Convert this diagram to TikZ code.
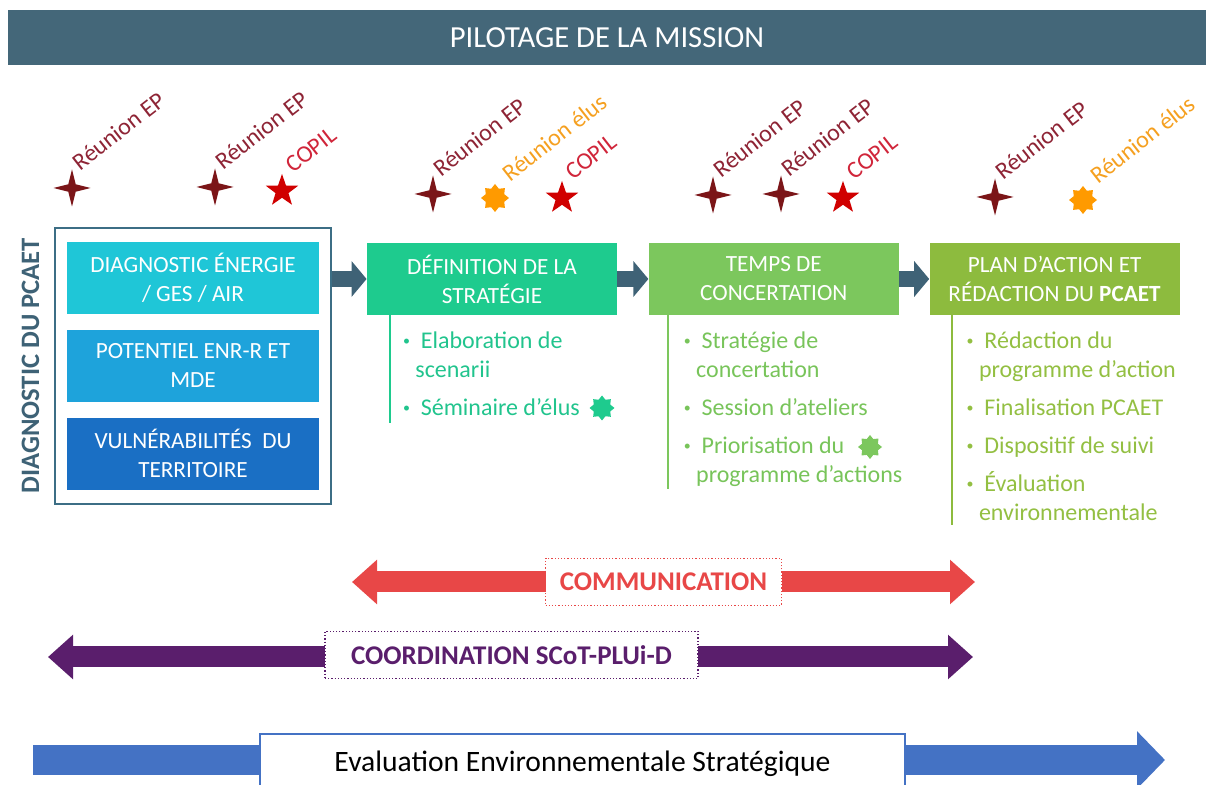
\documentclass[tikz,border=0pt]{standalone}
\usepackage{fontspec}
\setmainfont{Carlito}
\usepackage{tikz}
\usetikzlibrary{positioning,arrows.meta,shapes.geometric,fit,calc}
\definecolor{pilot}{HTML}{446779}
\definecolor{diagc}{HTML}{3E6276}
\definecolor{framec}{HTML}{3C6E85}
\definecolor{flowc}{HTML}{3F6276}
\definecolor{energ}{HTML}{1FC6D7}
\definecolor{enr}{HTML}{1EA3DB}
\definecolor{vuln}{HTML}{1A6FC4}
\definecolor{strat}{HTML}{1ECB8E}
\definecolor{conc}{HTML}{7CC75D}
\definecolor{plan}{HTML}{8DBB3E}
\definecolor{strattxt}{HTML}{21C48D}
\definecolor{conctxt}{HTML}{78C45A}
\definecolor{plantxt}{HTML}{93BF42}
\definecolor{epred}{HTML}{7B1518}
\definecolor{eplbl}{HTML}{8E2435}
\definecolor{copred}{HTML}{D00000}
\definecolor{copiltxt}{HTML}{D0253A}
\definecolor{elus}{HTML}{FF9A00}
\definecolor{elustxt}{HTML}{F5A020}
\definecolor{comred}{HTML}{E84747}
\definecolor{coordc}{HTML}{5A1E6C}
\definecolor{evblue}{HTML}{4472C4}
\tikzset{
  bar/.style={rectangle,fill=pilot,text=white,minimum width=599pt,minimum height=27.5pt,
    inner sep=0pt,font=\fontsize{15.3pt}{18pt}\selectfont},
  diagbox/.style={rectangle,fill=#1,text=white,minimum width=126pt,minimum height=36pt,
    align=center,inner sep=2pt,font=\fontsize{11.6pt}{14.5pt}\selectfont},
  stagebox/.style={rectangle,fill=#1,text=white,minimum width=125pt,minimum height=36pt,
    align=center,inner sep=2pt,font=\fontsize{11.6pt}{14.5pt}\selectfont},
  lst/.style={text=#1,align=left,inner sep=0pt,font=\fontsize{12pt}{14.5pt}\selectfont},
  vline/.style={draw=#1,line width=1pt},
  flow/.style={draw=flowc,line width=8pt,-{Triangle[length=7.5pt,width=17.5pt]}},
  band/.style={draw=#1,line width=10.5pt,
    {Triangle[length=12.5pt,width=21.5pt]}-{Triangle[length=12.5pt,width=21.5pt]}},
  bandlbl/.style={rectangle,draw=#1,densely dotted,line width=0.6pt,fill=white,text=#1,
    inner sep=0pt,minimum height=23.5pt,font=\bfseries\fontsize{13.5pt}{15pt}\selectfont},
  evband/.style={draw=evblue,line width=15pt,-{Triangle[length=14pt,width=28pt]}},
  evlbl/.style={rectangle,draw=evblue,line width=0.6pt,fill=white,text=black,inner sep=0pt,
    minimum width=322.5pt,minimum height=30pt,font=\fontsize{14.8pt}{17pt}\selectfont},
  epstar/.style={star,star points=4,star point ratio=3.5,fill=epred,minimum size=18.5pt,inner sep=0pt},
  copil/.style={star,star points=5,star point ratio=2.5,fill=copred,minimum size=17pt,inner sep=0pt},
  burst/.style={star,star points=8,star point ratio=1.4,fill=#1,minimum size=14pt,inner sep=0pt},
  mlbl/.style={rotate=38,anchor=base west,inner sep=0pt,text=#1,font=\fontsize{12pt}{14pt}\selectfont},
}
\newcommand{\bulmark}{\raisebox{1.3pt}{\fontsize{7pt}{7pt}\selectfont\textbullet}}
\newcommand{\bul}{\bulmark\ \ }
\newcommand{\ind}{\hphantom{\bulmark}\ }

\begin{document}
\begin{tikzpicture}[x=0.5pt,y=-0.5pt,node distance=7.5pt]
  \useasboundingbox (0,0) rectangle (1206,785);
  \clip (0,0) rectangle (1206,785);
  % pilotage
  \node[bar] (pilot) at (607,37.5) {PILOTAGE DE LA MISSION};

  % jalons
  \node[epstar] (m1) at (72,188) {};
  \node[mlbl=eplbl] at ([shift={(4pt,8pt)}]m1.center) {Réunion EP};
  \node[epstar] (m2) at (215,187) {};
  \node[mlbl=eplbl] at ([shift={(4pt,8pt)}]m2.center) {Réunion EP};
  \node[copil] (m3) at (282,191) {};
  \node[mlbl=copiltxt] at ([shift={(5.5pt,8.5pt)}]m3.center) {COPIL};
  \node[epstar] (m4) at (433,194) {};
  \node[mlbl=eplbl] at ([shift={(4pt,8pt)}]m4.center) {Réunion EP};
  \node[burst=elus] (m5) at (495,198) {};
  \node[mlbl=elustxt] at ([shift={(7.5pt,7.5pt)}]m5.center) {Réunion élus};
  \node[copil] (m6) at (562,198) {};
  \node[mlbl=copiltxt] at ([shift={(5.5pt,8.5pt)}]m6.center) {COPIL};
  \node[epstar] (m7) at (713,195) {};
  \node[mlbl=eplbl] at ([shift={(4pt,8pt)}]m7.center) {Réunion EP};
  \node[epstar] (m8) at (781,194) {};
  \node[mlbl=eplbl] at ([shift={(4pt,8pt)}]m8.center) {Réunion EP};
  \node[copil] (m9) at (843,198) {};
  \node[mlbl=copiltxt] at ([shift={(5.5pt,8.5pt)}]m9.center) {COPIL};
  \node[epstar] (m10) at (995,197) {};
  \node[mlbl=eplbl] at ([shift={(4pt,8pt)}]m10.center) {Réunion EP};
  \node[burst=elus] (m11) at (1083,200) {};
  \node[mlbl=elustxt] at ([shift={(7.5pt,7.5pt)}]m11.center) {Réunion élus};

  % diagnostic
  \node[diagbox=energ] (d1) at (193,278) {DIAGNOSTIC ÉNERGIE\\/ GES / AIR};
  \node[diagbox=enr,below=of d1] (d2) {POTENTIEL ENR-R ET\\MDE};
  \node[diagbox=vuln,below=of d2] (d3) {VULNÉRABILITÉS\ \ DU\\TERRITOIRE};
  \node[draw=framec,line width=1pt,fit=(d1)(d3),inner xsep=6pt,inner ysep=7pt] (frame) {};
  \node[rotate=90,text=diagc,inner sep=0pt,font=\bfseries\fontsize{13.3pt}{15pt}\selectfont]
    (dlbl) at ([xshift=-11.5pt]frame.west) {DIAGNOSTIC DU PCAET};

  % etapes
  \node[stagebox=strat] (s1) at (492,279) {DÉFINITION DE LA\\STRATÉGIE};
  \node[stagebox=conc,right=15.5pt of s1] (s2) {TEMPS DE\\CONCERTATION};
  \node[stagebox=plan,right=15pt of s2] (s3) {PLAN D’ACTION ET\\RÉDACTION DU \textbf{PCAET}};
  \draw[flow] (frame.east |- s1.west) -- (s1.west);
  \draw[flow] (s1) -- (s2);
  \draw[flow] (s2) -- (s3);

  \draw[vline=strat] ([xshift=11.5pt]s1.south west) -- ++(0,108);
  \draw[vline=conc] ([xshift=10pt]s2.south west) -- ++(0,174);
  \draw[vline=plan] ([xshift=11.5pt]s3.south west) -- ++(0,210);
  \node[lst=strattxt,anchor=north west] (l1) at ([xshift=18pt,yshift=-8pt]s1.south west)
    {\bul Elaboration de\\\ind scenarii\\[4.5pt]\bul Séminaire d’élus};
  \node[burst=strat,minimum size=12.5pt] (g1) at (602,408) {};
  \node[lst=conctxt,anchor=north west] (l2) at ([xshift=17.5pt,yshift=-8pt]s2.south west)
    {\bul Stratégie de\\\ind concertation\\[4.5pt]\bul Session d’ateliers\\[4.5pt]
     \bul Priorisation du\\\ind programme d’actions};
  \node[burst=conc,minimum size=12pt] (g2) at (870,447) {};
  \node[lst=plantxt,anchor=north west] (l3) at ([xshift=18.5pt,yshift=-8pt]s3.south west)
    {\bul Rédaction du\\\ind programme d’action\\[4.5pt]\bul Finalisation PCAET\\[4.5pt]
     \bul Dispositif de suivi\\[4.5pt]\bul Évaluation\\\ind environnementale};

  % transversal
  \coordinate (comL) at (352,582);
  \coordinate (comR) at (975,582);
  \draw[band=comred] (comL) -- (comR);
  \node[bandlbl=comred,minimum width=118pt] (com) at ($(comL)!0.5!(comR)$) {COMMUNICATION};
  \coordinate (coL) at (48,657);
  \coordinate (coR) at (973,657);
  \draw[band=coordc] (coL) -- (coR);
  \node[bandlbl=coordc,minimum width=186.5pt] (coord) at (511.5,655) {COORDINATION SCoT-PLUi-D};
  \coordinate (evL) at (33,760);
  \coordinate (evR) at (1165,760);
  \draw[evband] (evL) -- (evR);
  \node[evlbl] (ev) at (582.5,764) {Evaluation Environnementale Stratégique};
\end{tikzpicture}
\end{document}
